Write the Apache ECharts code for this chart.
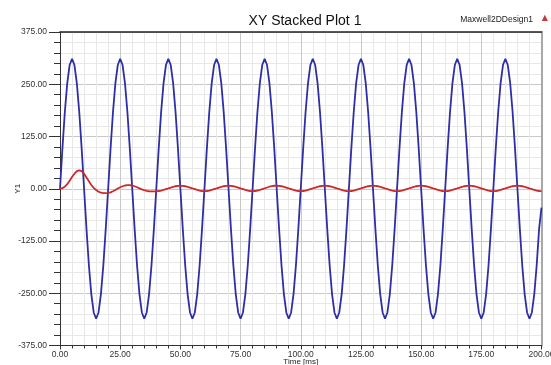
<!DOCTYPE html>
<html>
<head>
<meta charset="utf-8">
<script src="https://cdn.jsdelivr.net/npm/echarts@6/dist/echarts.min.js"></script>
<style>
  html, body { margin: 0; padding: 0; background: #ffffff; }
  #chart { width: 551px; height: 365px; }
</style>
</head>
<body>
<div id="chart"></div>
<script>
// Sample times [ms]
const timeMs = [
  0, 1, 2, 3, 4, 5, 6, 7, 8, 9, 10, 11, 12, 13, 14, 15, 16, 17, 18, 19,
  20, 21, 22, 23, 24, 25, 26, 27, 28, 29, 30, 31, 32, 33, 34, 35, 36, 37, 38, 39,
  40, 41, 42, 43, 44, 45, 46, 47, 48, 49, 50, 51, 52, 53, 54, 55, 56, 57, 58, 59,
  60, 61, 62, 63, 64, 65, 66, 67, 68, 69, 70, 71, 72, 73, 74, 75, 76, 77, 78, 79,
  80, 81, 82, 83, 84, 85, 86, 87, 88, 89, 90, 91, 92, 93, 94, 95, 96, 97, 98, 99,
  100, 101, 102, 103, 104, 105, 106, 107, 108, 109, 110, 111, 112, 113, 114, 115, 116, 117, 118, 119,
  120, 121, 122, 123, 124, 125, 126, 127, 128, 129, 130, 131, 132, 133, 134, 135, 136, 137, 138, 139,
  140, 141, 142, 143, 144, 145, 146, 147, 148, 149, 150, 151, 152, 153, 154, 155, 156, 157, 158, 159,
  160, 161, 162, 163, 164, 165, 166, 167, 168, 169, 170, 171, 172, 173, 174, 175, 176, 177, 178, 179,
  180, 181, 182, 183, 184, 185, 186, 187, 188, 189, 190, 191, 192, 193, 194, 195, 196, 197, 198, 199,
  200
];

// Supply voltage trace
const voltage = [
  0, 96, 183, 252, 296, 311, 296, 252, 183, 96, 0, -96, -183, -252, -296, -311, -296, -252, -183, -96,
  0, 96, 183, 252, 296, 311, 296, 252, 183, 96, 0, -96, -183, -252, -296, -311, -296, -252, -183, -96,
  0, 96, 183, 252, 296, 311, 296, 252, 183, 96, 0, -96, -183, -252, -296, -311, -296, -252, -183, -96,
  0, 96, 183, 252, 296, 311, 296, 252, 183, 96, 0, -96, -183, -252, -296, -311, -296, -252, -183, -96,
  0, 96, 183, 252, 296, 311, 296, 252, 183, 96, 0, -96, -183, -252, -296, -311, -296, -252, -183, -96,
  0, 96, 183, 252, 296, 311, 296, 252, 183, 96, 0, -96, -183, -252, -296, -311, -296, -252, -183, -96,
  0, 96, 183, 252, 296, 311, 296, 252, 183, 96, 0, -96, -183, -252, -296, -311, -296, -252, -183, -96,
  0, 96, 183, 252, 296, 311, 296, 252, 183, 96, 0, -96, -183, -252, -296, -311, -296, -252, -183, -96,
  0, 96, 183, 252, 296, 311, 296, 252, 183, 96, 0, -96, -183, -252, -296, -311, -296, -252, -183, -96,
  0, 96, 183, 252, 296, 311, 296, 252, 183, 96, 0, -96, -183, -252, -296, -311, -296, -252, -183, -96,
  -45
];

// Winding current trace (inrush transient, then steady state)
const current = [
  0, 1.5, 5, 11, 19, 28, 36, 42, 44, 42, 36, 27, 18, 9, 2, -3, -7, -9.5, -10.3, -10.4,
  -10, -8.5, -6, -3, 0.5, 3.5, 6, 7.8, 8.8, 8.7, 7.8, 6, 3.5, 1, -1.5, -3.5, -5, -6, -6.4, -6.4,
  -6, -5.4, -4.3, -2.8, -1, 0.8, 2.8, 4.6, 6, 7, 7.4, 7, 6, 4.6, 2.8, 0.8, -1, -2.8, -4.3, -5.4,
  -5.8, -5.4, -4.3, -2.8, -1, 0.8, 2.8, 4.6, 6, 7, 7.4, 7, 6, 4.6, 2.8, 0.8, -1, -2.8, -4.3, -5.4,
  -5.8, -5.4, -4.2, -2.7, -0.9, 1, 3, 4.8, 6.2, 7.2, 7.5, 7.1, 6, 4.6, 2.8, 0.8, -1, -2.8, -4.3, -5.4,
  -5.8, -5.4, -4.3, -2.8, -1, 0.8, 2.8, 4.6, 6, 7, 7.4, 7, 6, 4.6, 2.8, 0.8, -1, -2.8, -4.3, -5.4,
  -5.8, -5.4, -4.3, -2.8, -1, 0.8, 2.8, 4.6, 6, 7, 7.4, 7, 6, 4.6, 2.8, 0.8, -1, -2.8, -4.3, -5.4,
  -5.8, -5.4, -4.3, -2.8, -1, 0.8, 2.8, 4.6, 6, 7, 7.3, 7, 6, 4.6, 2.8, 0.8, -1, -2.8, -4.3, -5.4,
  -5.8, -5.4, -4.3, -2.8, -1, 0.8, 2.8, 4.6, 6, 7, 7.3, 7, 6, 4.6, 2.8, 0.8, -1, -2.8, -4.3, -5.4,
  -5.8, -5.4, -4.3, -2.8, -1, 0.8, 2.8, 4.6, 6, 7, 7.3, 7, 6, 4.6, 2.8, 0.8, -1, -2.8, -4.3, -5.4,
  -5.9
];

// Axis tick values
const xTicks = [0, 25, 50, 75, 100, 125, 150, 175, 200];
const yTicks = [-375, -250, -125, 0, 125, 250, 375];

const labelFont = "'Liberation Sans', Arial, sans-serif";
const pairs = (xs, ys) => xs.map((x, i) => [x, ys[i]]);

const chart = echarts.init(document.getElementById('chart'), null, { renderer: 'canvas' });

chart.setOption({
  animation: false,
  backgroundColor: '#ffffff',
  title: {
    text: 'XY Stacked Plot 1',
    left: 300,
    top: 9,
    textAlign: 'center',
    textStyle: { fontFamily: labelFont, fontSize: 14, fontWeight: 'normal', color: '#111' }
  },
  graphic: [
    {
      type: 'text', right: 18, top: 15,
      style: { text: 'Maxwell2DDesign1', fontFamily: labelFont, fontSize: 8.5, fill: '#222' }
    },
    {
      type: 'text', right: 3, top: 14,
      style: { text: '▲', fontFamily: 'DejaVu Sans', fontSize: 8, fill: '#c23a3a' }
    }
  ],
  grid: { left: 60, right: 9.5, top: 32, bottom: 19.5, containLabel: false, outerBoundsMode: 'none' },
  xAxis: [
    {
      type: 'value', position: 'bottom',
      min: xTicks[0], max: xTicks[xTicks.length - 1], interval: xTicks[1] - xTicks[0],
      name: 'Time [ms]', nameLocation: 'middle', nameGap: 12, nameMoveOverlap: false,
      nameTextStyle: { fontFamily: labelFont, fontSize: 8, color: '#222' },
      axisLine: { show: true, onZero: false, lineStyle: { color: '#333', width: 1 } },
      axisTick: { show: true, length: 4, lineStyle: { color: '#333' } },
      minorTick: { show: true, splitNumber: 5, length: 3, lineStyle: { color: '#333' } },
      splitLine: { show: true, lineStyle: { color: '#c8c8c8', width: 1 } },
      minorSplitLine: { show: true, lineStyle: { color: '#e8e8e8', width: 1 } },
      axisLabel: {
        margin: 5, fontFamily: labelFont, fontSize: 8.5, color: '#333',
        showMinLabel: true, showMaxLabel: true,
        formatter: v => v.toFixed(2)
      }
    },
    {
      type: 'value', position: 'top',
      min: xTicks[0], max: xTicks[xTicks.length - 1],
      axisLine: { show: true, onZero: false, lineStyle: { color: '#222', width: 1.5 } },
      axisTick: { show: false }, axisLabel: { show: false }, splitLine: { show: false }
    }
  ],
  yAxis: [
    {
      type: 'value', position: 'left',
      min: yTicks[0], max: yTicks[yTicks.length - 1], interval: yTicks[1] - yTicks[0],
      name: 'Y1', nameLocation: 'middle', nameGap: 38, nameRotate: 90, nameMoveOverlap: false,
      nameTextStyle: { fontFamily: labelFont, fontSize: 8, color: '#222' },
      axisLine: { show: true, onZero: false, lineStyle: { color: '#333', width: 1 } },
      axisTick: { show: true, length: 11, lineStyle: { color: '#333' } },
      minorTick: { show: true, splitNumber: 5, length: 6, lineStyle: { color: '#333' } },
      splitLine: { show: true, lineStyle: { color: '#c8c8c8', width: 1 } },
      minorSplitLine: { show: true, lineStyle: { color: '#e8e8e8', width: 1 } },
      axisLabel: {
        margin: 13, fontFamily: labelFont, fontSize: 8.5, color: '#333',
        showMinLabel: true, showMaxLabel: true,
        formatter: v => v.toFixed(2)
      }
    },
    {
      type: 'value', position: 'right',
      min: yTicks[0], max: yTicks[yTicks.length - 1],
      axisLine: { show: true, onZero: false, lineStyle: { color: '#a8a8a8', width: 2 } },
      axisTick: { show: false }, axisLabel: { show: false }, splitLine: { show: false }
    }
  ],
  series: [
    {
      type: 'line', name: 'Voltage', xAxisIndex: 0, yAxisIndex: 0,
      data: pairs(timeMs, voltage),
      showSymbol: false, symbol: 'none', smooth: false,
      lineStyle: { color: '#2e2ea6', width: 1.8 }, z: 3
    },
    {
      type: 'line', name: 'Current', xAxisIndex: 0, yAxisIndex: 0,
      data: pairs(timeMs, current),
      showSymbol: false, symbol: 'none', smooth: false,
      lineStyle: { color: '#cc2a2a', width: 1.8 }, z: 4
    }
  ]
});
</script>
</body>
</html>
